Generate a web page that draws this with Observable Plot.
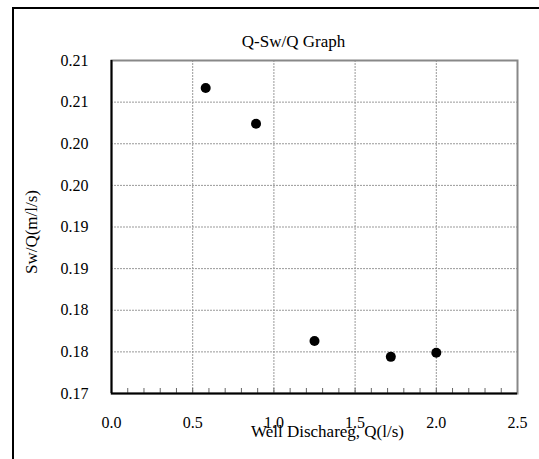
<!DOCTYPE html>
<html>
<head>
<meta charset="utf-8">
<script src="https://cdn.jsdelivr.net/npm/d3@7"></script>
<script src="https://cdn.jsdelivr.net/npm/@observablehq/plot@0.6"></script>
<style>
  html, body { margin: 0; padding: 0; background: #fff; }
  #wrap { position: relative; width: 539px; height: 459px; overflow: hidden; }
  #outer { position: absolute; left: 12px; top: 7px; width: 600px; height: 600px;
           border-left: 2px solid #000; border-top: 2px solid #000; pointer-events: none; }
  #wrap svg, #wrap svg text { font-family: "Times New Roman", "Liberation Serif", "DejaVu Serif", serif !important; }
</style>
</head>
<body>
<div id="wrap"><div id="outer"></div></div>
<script>
const titleText = "Q-Sw/Q Graph";
const xLabel = "Well Dischareg, Q(l/s)";
const yLabel = "Sw/Q(m/l/s)";

const dischargeQ = [0.58, 0.89, 1.25, 1.72, 2.00];
const swOverQ = [0.2067, 0.2024, 0.1763, 0.1744, 0.1749];

const xTicks = [0, 0.5, 1.0, 1.5, 2.0, 2.5];
const xTickLabels = ["0.0", "0.5", "1.0", "1.5", "2.0", "2.5"];
const xMinorTicks = [0.1,0.2,0.3,0.4,0.5,0.6,0.7,0.8,0.9,1.0,1.1,1.2,1.3,1.4,1.5,1.6,1.7,1.8,1.9,2.0,2.1,2.2,2.3,2.4];
const yTicks = [0.17, 0.175, 0.18, 0.185, 0.19, 0.195, 0.20, 0.205, 0.21];
const yTickLabels = ["0.17", "0.18", "0.18", "0.19", "0.19", "0.20", "0.20", "0.21", "0.21"];

const points = dischargeQ.map((q, i) => ({q, s: swOverQ[i]}));
const serif = "'Times New Roman', 'Liberation Serif', 'DejaVu Serif', serif";

const chart = Plot.plot({
  width: 539,
  height: 459,
  marginLeft: 111,
  marginRight: 22,
  marginTop: 60,
  marginBottom: 66,
  style: `font-family: ${serif}; background: transparent;`,
  x: {domain: [0, 2.5], label: null},
  y: {domain: [0.17, 0.21], label: null},
  marks: [
    Plot.gridX(xTicks.slice(1, -1), {stroke: "#999", strokeOpacity: 1, strokeDasharray: "2,1"}),
    Plot.gridY(yTicks.slice(1, -1), {stroke: "#999", strokeOpacity: 1, strokeDasharray: "2,1"}),
    Plot.frame({stroke: "#888", strokeWidth: 2}),
    Plot.axisX(xMinorTicks, {tickSize: -5, tickFormat: () => "", stroke: "#666", label: null}),
    Plot.axisX(xTicks, {tickSize: 0, tickPadding: 23, fontSize: 16, fontFamily: serif, tickFormat: (d, i) => xTickLabels[i], label: null}),
    Plot.axisY(yTicks, {tickSize: 0, tickPadding: 23, fontSize: 16, fontFamily: serif, tickFormat: (d, i) => yTickLabels[i], label: null}),
    Plot.ruleX([0], {stroke: "#000", strokeWidth: 2}),
    Plot.ruleY([0.17], {stroke: "#000", strokeWidth: 2}),
    Plot.dot(points, {x: "q", y: "s", r: 5, fill: "#000", stroke: null}),
    Plot.text([titleText], {frameAnchor: "top", dy: -26, dx: -21, fontSize: 17, fontFamily: serif, fill: "#000"}),
    Plot.text([xLabel], {frameAnchor: "bottom", dy: 43, dx: 13, fontSize: 17, fontFamily: serif, fill: "#000"}),
    Plot.text([yLabel], {frameAnchor: "left", textAnchor: "middle", dx: -80, dy: 5, rotate: -90, fontSize: 17, fontFamily: serif, fill: "#000"})
  ]
});
document.getElementById("wrap").prepend(chart);
</script>
</body>
</html>
